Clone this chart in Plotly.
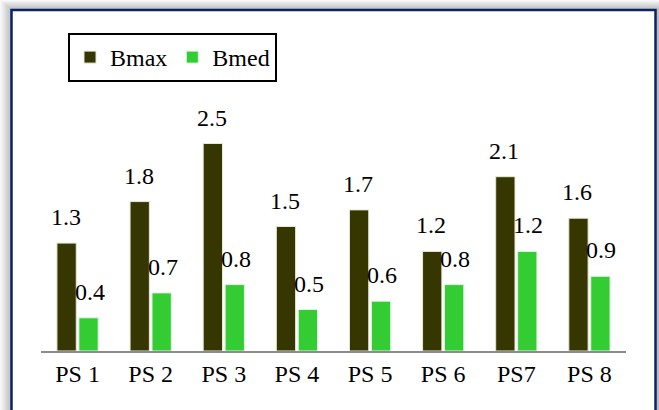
import plotly.graph_objects as go

categories = ["PS 1", "PS 2", "PS 3", "PS 4", "PS 5", "PS 6", "PS7", "PS 8"]
bmax = [1.3, 1.8, 2.5, 1.5, 1.7, 1.2, 2.1, 1.6]
bmed = [0.4, 0.7, 0.8, 0.5, 0.6, 0.8, 1.2, 0.9]

DARK = "#363600"
GREEN = "#33cc33"
FONT = "Liberation Serif"
FS = 24

# plot area in pixels (used to place the frame shapes)
W, H = 659, 410
L, R, T, B = 41, 33, 102, 59
pw, ph = W - L - R, H - T - B


def px(x):
    return (x - L) / pw


def py(y):
    return (H - B - y) / ph


fig = go.Figure()
fig.add_trace(go.Bar(x=categories, y=bmax, name="Bmax",
                     marker=dict(color=DARK, line=dict(color="#e8e8d8", width=1))))
fig.add_trace(go.Bar(x=categories, y=bmed, name="Bmed",
                     marker=dict(color=GREEN, line=dict(color="#e0f5e0", width=1))))

# value labels above the bars
annots = []
for cat, a, b in zip(categories, bmax, bmed):
    for v, dx in ((a, -12), (b, 12)):
        annots.append(dict(x=cat, y=v, text=f"{v:.1f}", showarrow=False,
                           xshift=dx, yshift=11, yanchor="bottom",
                           font=dict(family=FONT, size=FS, color="black")))

# soft shadow + navy frame
shapes = []
for i in range(10, 0, -1):
    shapes.append(dict(type="rect", xref="paper", yref="paper", layer="below",
                       x0=px(12 - i * 1.2), x1=px(659), y0=py(420), y1=py(10 - i),
                       fillcolor="rgba(0,0,0,0.028)", line=dict(width=0)))
shapes.append(dict(type="rect", xref="paper", yref="paper", layer="below",
                   x0=px(11.5), x1=px(655.5), y0=py(420), y1=py(10),
                   fillcolor="white", line=dict(color="#0a2366", width=2.5)))

fig.update_layout(
    width=W, height=H,
    margin=dict(l=L, r=R, t=T, b=B),
    paper_bgcolor="white", plot_bgcolor="rgba(0,0,0,0)",
    barmode="group", bargap=0.4, bargroupgap=0.12,
    font=dict(family=FONT, size=FS, color="black"),
    showlegend=True,
    legend=dict(orientation="h", x=px(68), y=py(33), xanchor="left", yanchor="top",
                bordercolor="black", borderwidth=2, bgcolor="white",
                itemwidth=30, font=dict(family=FONT, size=FS),
                tracegroupgap=0),
    annotations=annots,
    shapes=shapes,
)
fig.update_xaxes(showline=True, linecolor="#8c8c8c", linewidth=2, ticks="",
                 showgrid=False, tickfont=dict(family=FONT, size=FS))
fig.update_yaxes(range=[0, 3], visible=False, showgrid=False)

# page body has a default 8px margin; drop it so the chart sits at 0,0
fig.write_html("out.html", config={"displayModeBar": False},
               post_script="document.body.style.margin='0';")
